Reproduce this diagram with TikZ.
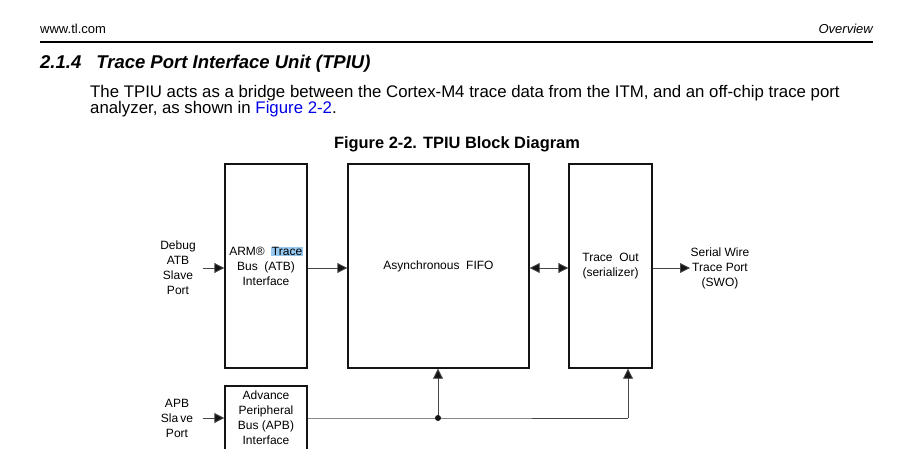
\documentclass[tikz,border=0pt]{standalone}
\usepackage{fontspec}
\setmainfont{Liberation Sans}
\usetikzlibrary{arrows.meta}
\definecolor{linkblue}{RGB}{0,0,230}
\definecolor{selblue}{RGB}{150,200,240}
\definecolor{ink}{RGB}{20,20,20}
\definecolor{wire}{RGB}{70,70,70}
\begin{document}
\begin{tikzpicture}[x=1pt,y=-1pt,
  blk/.style={draw=ink,line width=1.4pt,inner sep=0pt,align=center,
    font=\fontsize{12}{15}\selectfont},
  lbl/.style={inner sep=0pt,align=center,font=\fontsize{12}{15}\selectfont},
  conn/.style={draw=wire,line width=0.9pt},
  tip/.style={fill=ink,draw=ink},
  arr/.style={conn,-{Triangle[length=10pt,width=10pt,fill=ink]}},
  darr/.style={conn,{Triangle[length=10pt,width=10pt,fill=ink]}-{Triangle[length=10pt,width=10pt,fill=ink]}},
  txt/.style={inner sep=0pt,anchor=base west}]
\useasboundingbox (0,0) rectangle (899,449);
% header
\node[txt,font=\fontsize{13}{15}\selectfont] (site) at (40,34) {www.tl.com};
\node[inner sep=0pt,anchor=base east,font=\fontsize{13}{15}\selectfont\itshape] (ov) at (873,34) {Overview};
\coordinate (rl) at (40,42);
\coordinate (rr) at (873,42);
\draw[line width=2.6pt] (rl) -- (rr);
\node[txt,font=\fontsize{18.5}{20}\selectfont\bfseries\itshape] (head) at (40,68.5) {2.1.4\hspace{15pt}Trace Port Interface Unit (TPIU)};
\node[txt,font=\fontsize{16.8}{18}\selectfont] (p1) at (90,97.5) {The TPIU acts as a bridge between the Cortex-M4 trace data from the ITM, and an off-chip trace port};
\node[txt,font=\fontsize{16.8}{18}\selectfont] (p2) at (90,113.5) {analyzer, as shown in \textcolor{linkblue}{Figure 2-2}.};
\node[inner sep=0pt,anchor=base,font=\fontsize{16.4}{18}\selectfont\bfseries] (ftitle) at (457,149) {Figure 2-2. TPIU Block Diagram};
% blocks
\node[blk,minimum width=82pt,minimum height=204pt] (atb) at (266,266)
  {ARM\textregistered\ \ {\setlength{\fboxsep}{0.5pt}\colorbox{selblue}{Trace}}\\Bus\ \ (ATB)\\Interface};
\node[blk,minimum width=181pt,minimum height=204pt] (fifo) at (438.5,266) {Asynchronous\ \ FIFO};
\node[blk,minimum width=83pt,minimum height=204pt] (tout) at (610.5,266) {Trace\ \ Out\\(serializer)};
\node[blk,minimum width=82pt,minimum height=64pt] (apb) at (266,418) {Advance\\Peripheral\\Bus (APB)\\Interface};
% labels
\node[lbl] (dbg) at (178,268) {Debug\\ATB\\Slave\\Port};
\node[lbl] (swo) at (720,268) {Serial Wire\\Trace Port\\(SWO)};
\node[lbl] (apbl) at (177,418) {APB\\Sla\,ve\\Port};
% connectors
\coordinate (dbgin) at (203,268);
\draw[arr] (dbgin) -- (atb.west |- dbgin);
\draw[arr] (atb.east |- dbgin) -- (fifo.west |- dbgin);
\draw[darr] (fifo.east |- dbgin) -- (tout.west |- dbgin);
\coordinate (swoin) at (690,268);
\draw[arr] (tout.east |- dbgin) -- (swoin);
\coordinate (apbin) at (203,418);
\draw[arr] (apbin) -- (apb.west);
\coordinate (j) at (438,418);
\coordinate (k) at (628,418);
\draw[conn] (apb.east) -- (j) -- (k);
\draw[arr] (j) -- (j |- fifo.south);
\draw[arr] (k) -- (k |- tout.south);
\fill[ink] (j) circle (3pt);
\end{tikzpicture}
\end{document}
